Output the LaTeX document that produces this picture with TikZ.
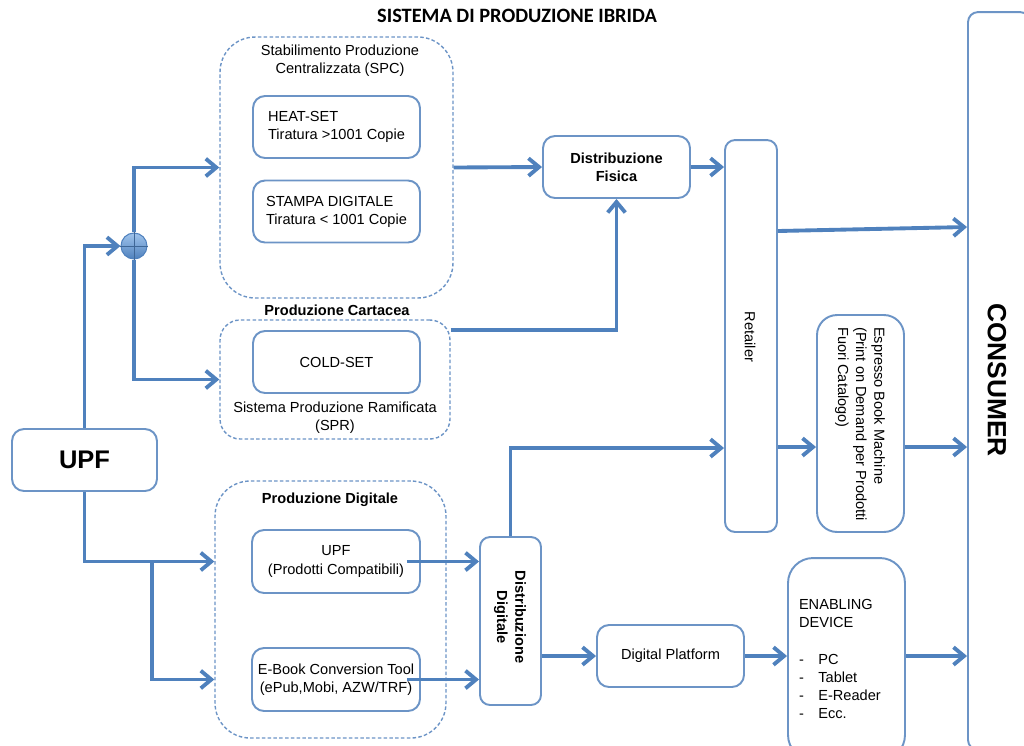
\documentclass[tikz,border=0pt]{standalone}
\usepackage{fontspec}
\setmainfont{Liberation Sans}
\newfontfamily\titlefont{Carlito}
\usetikzlibrary{arrows.meta}
\definecolor{linkblue}{RGB}{79,129,189}
\definecolor{boxblue}{RGB}{108,148,198}
\definecolor{balltop}{RGB}{160,196,236}

\begin{document}
\begin{tikzpicture}[x=0.02cm,y=-0.02cm,>={Straight Barb[length=6pt,width=10pt]},
  font=\fontsize{8.3}{10.3}\selectfont,
  box/.style={draw=boxblue,line width=1.1pt,rounded corners=0.24cm,fill=white,inner sep=2pt,align=center},
  group/.style={draw=boxblue,line width=0.8pt,dash pattern=on 2pt off 1.3pt,rounded corners=0.7cm},
  link/.style={->,draw=linkblue,line width=2.2pt},
  head/.style={font=\fontsize{8.3}{10.3}\selectfont\bfseries}]

\useasboundingbox (0,0) rectangle (1024,745);

\node[font=\titlefont\fontsize{11.6}{13}\selectfont\bfseries] (title) at (517,16) {SISTEMA DI PRODUZIONE IBRIDA};

% produzione cartacea
\node[group,minimum width=4.66cm,minimum height=5.22cm] (spc) at (336.5,167.5) {};
\node[align=center] (spctxt) at (340,61) {Stabilimento Produzione\\Centralizzata (SPC)};
\node[box,align=left,minimum width=3.34cm,minimum height=1.24cm] (heat) at (336.5,127) {HEAT-SET\\Tiratura >1001 Copie};
\node[box,align=left,minimum width=3.34cm,minimum height=1.24cm] (stampa) at (336.5,211.5) {STAMPA DIGITALE\\Tiratura < 1001 Copie};
\node[head] (carttxt) at (337,310) {Produzione Cartacea};
\node[group,rounded corners=0.4cm,minimum width=4.6cm,minimum height=2.38cm] (cart) at (335,379.5) {};
\node[box,minimum width=3.34cm,minimum height=1.24cm] (cold) at (336.5,362) {COLD-SET};
\node[align=center] (sprtxt) at (335,418) {Sistema Produzione Ramificata\\(SPR)};

% produzione digitale
\node[head] (digitxt) at (330,500) {Produzione Digitale};
\node[group,minimum width=4.62cm,minimum height=5.14cm] (digi) at (330.5,609.5) {};
\node[box,minimum width=3.36cm,minimum height=1.26cm] (upfpc) at (336,561.5) {UPF\\(Prodotti Compatibili)};
\node[box,minimum width=3.36cm,minimum height=1.26cm] (ebook) at (336,679.5) {E-Book Conversion Tool\\(ePub,Mobi, AZW/TRF)};

% sorgente
\node[box,minimum width=2.9cm,minimum height=1.24cm,font=\fontsize{14.5}{16}\selectfont\bfseries] (upf) at (84.5,460) {UPF};
\node[circle,draw=linkblue,line width=0.6pt,top color=balltop,bottom color=linkblue,minimum size=0.52cm,inner sep=0pt] (jn) at (134,246) {};
\draw[linkblue!80!black,line width=0.5pt] (jn.north) -- (jn.south) (jn.west) -- (jn.east);

% distribuzione
\node[box,head,minimum width=2.94cm,minimum height=1.24cm] (fisica) at (616.5,167) {Distribuzione\\Fisica};
\node[box,rounded corners=0.2cm,minimum width=1.22cm,minimum height=3.36cm] (distdig) at (510.5,621) {};
\node[head,rotate=-90,align=center] (distdigtxt) at (510,617) {Distribuzione\\Digitale};
\node[box,minimum width=2.94cm,minimum height=1.24cm] (platform) at (670.5,656) {Digital Platform};
\node[box,rounded corners=0.2cm,minimum width=1.04cm,minimum height=7.84cm] (retailer) at (751,336) {};
\node[rotate=-90] (retailertxt) at (750,337) {Retailer};
\node[box,rounded corners=0.4cm,minimum width=1.74cm,minimum height=4.34cm] (espresso) at (860.5,423.5) {};
\node[rotate=-90,align=left] (espressotxt) at (860,424) {Espresso Book Machine\\(Print on Demand per Prodotti\\Fuori Catalogo)};
\node[box,rounded corners=0.5cm,align=left,text width=1.9cm,minimum width=2.34cm,minimum height=4.04cm] (enabling) at (846.5,659)
  {ENABLING\\DEVICE\\[10.3pt]\makebox[11pt][l]{-}PC\\\makebox[11pt][l]{-}Tablet\\\makebox[11pt][l]{-}E-Reader\\\makebox[11pt][l]{-}Ecc.};
\node[box,rounded corners=0.2cm,minimum width=1.24cm,minimum height=14.76cm] (consumer) at (999,381) {};
\node[rotate=-90,font=\fontsize{15}{17}\selectfont\bfseries] (consumertxt) at (997,380) {CONSUMER};

% flussi
\draw[link] (upf.north) |- (jn.west);
\draw[link] (jn.north) |- (spc.west);
\draw[link] (jn.south) |- (cart.west);
\draw[link] (spc.east) -- (fisica.west);
\draw[link] (cart.east |- cold.north) -| (fisica.south);
\draw[link] (fisica.east) -- (fisica.east -| retailer.west);
\draw[link] (retailer.east |- 0,231) -- (consumer.west |- 0,227);
\draw[link] (distdig.north) |- (retailer.west |- 0,448);
\draw[link] (retailer.east |- 0,447) -- (espresso.west |- 0,447);
\draw[link] (espresso.east |- 0,447) -- (consumer.west |- 0,447);
\draw[link] (upf.south) |- (digi.west |- upfpc.west);
\coordinate (split) at (152,0 |- upfpc.west);
\draw[link] (split) |- (digi.west |- ebook.west);
\draw[link] ([xshift=-8pt]upfpc.east) -- (distdig.west |- upfpc.east);
\draw[link] ([xshift=-8pt]ebook.east) -- (distdig.west |- ebook.east);
\draw[link] (distdig.east |- platform.west) -- (platform.west);
\draw[link] (platform.east) -- (enabling.west |- platform.east);
\draw[link] (enabling.east |- platform.east) -- (consumer.west |- platform.east);
\end{tikzpicture}
\end{document}
